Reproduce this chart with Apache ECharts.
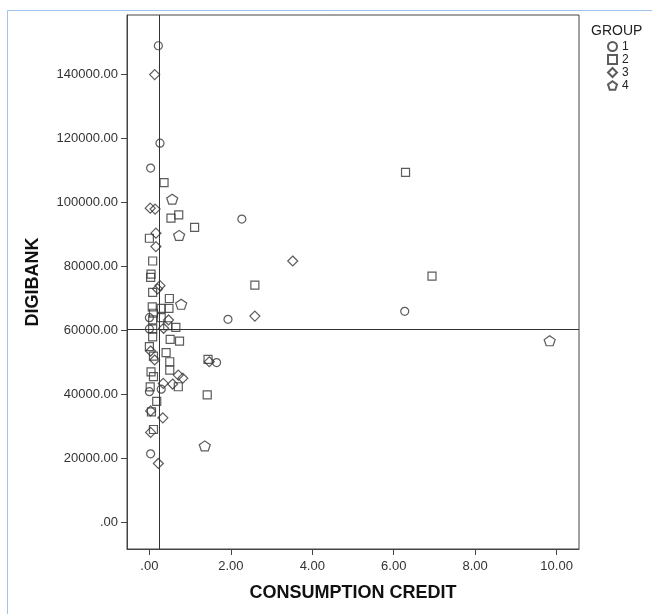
<!DOCTYPE html>
<html>
<head>
<meta charset="utf-8">
<script src="https://cdn.jsdelivr.net/npm/echarts@6/dist/echarts.min.js"></script>
<style>
html,body{margin:0;padding:0;background:#fff;}
#chart{width:652px;height:614px;}
</style>
</head>
<body>
<div id="chart"></div>
<script>
// ---- data ----
const xTicks = [0, 2, 4, 6, 8, 10];
const yTicks = [0, 20000, 40000, 60000, 80000, 100000, 120000, 140000];
const groupNames = ['1', '2', '3', '4'];
const refX = 0.23;
const refY = 60300;

const group1 = [
  [0.22,148900],[0.26,118500],[0.03,110700],[2.27,94800],[1.93,63500],[6.27,66000],
  [1.65,50000],[0.0,64000],[0.0,60500],[0.29,41700],[0.0,40900],[0.03,21500]
];
const group2 = [
  [6.29,109400],[6.94,77000],[2.59,74200],[0.36,106200],[0.53,95100],[0.72,96100],
  [1.11,92200],[0.0,88800],[0.08,81700],[0.04,77600],[0.03,76600],[0.08,71900],
  [0.49,70000],[0.07,67400],[0.29,66900],[0.48,66900],[0.1,65400],[0.08,63300],
  [0.29,64000],[0.65,61000],[0.08,60500],[0.51,57250],[0.74,56700],[0.08,58000],
  [0.41,53100],[0.5,50250],[0.5,47650],[1.44,51000],[0.04,47100],[0.1,45600],
  [0.71,42450],[0.02,42400],[1.42,39900],[0.18,37900],[0.05,34600],[0.1,29100],
  [0.0,55000],[0.45,61500],[0.1,52000]
];
const group3 = [
  [0.13,139900],[0.02,98200],[0.14,97900],[0.16,90400],[0.16,86200],[0.26,74000],
  [3.52,81700],[2.59,64500],[0.47,63300],[0.35,60700],[0.03,53600],[0.13,50800],
  [1.47,50250],[0.34,43500],[0.71,46100],[0.82,45100],[0.57,43300],[0.03,34900],
  [0.33,32750],[0.03,28200],[0.22,18500],[0.2,73000]
];
const group4 = [
  [0.56,101000],[0.73,89700],[0.78,68200],[1.36,24000],[9.83,56800]
];

const pentagon = 'path://M50,0 L97.55,34.55 L79.39,90.45 L20.61,90.45 L2.45,34.55 Z';
const FONT = '"Liberation Sans", Arial, sans-serif';
const fmt = v => v === 0 ? '.00' : v.toFixed(2);
const pointStyle = {color: 'rgba(0,0,0,0)', borderColor: '#333', borderWidth: 1.2};

function mkSeries(name, data, symbol, size) {
  return {
    name: name, type: 'scatter', data: data, symbol: symbol, symbolSize: size,
    itemStyle: pointStyle, emphasis: {disabled: true}, animation: false
  };
}

const series = [
  mkSeries(groupNames[0], group1, 'circle', 8),
  mkSeries(groupNames[1], group2, 'rect', 8),
  mkSeries(groupNames[2], group3, 'diamond', 10),
  mkSeries(groupNames[3], group4, pentagon, [11, 10])
];
series[0].markLine = {
  silent: true, symbol: 'none', animation: false,
  label: {show: false},
  lineStyle: {color: '#333', width: 1, type: 'solid'},
  data: [{xAxis: refX}, {yAxis: refY}]
};

const chart = echarts.init(document.getElementById('chart'), null, {renderer: 'canvas'});
chart.setOption({
  backgroundColor: '#fff',
  animation: false,
  textStyle: {fontFamily: FONT},
  title: {
    text: 'GROUP', left: 586, top: 19,
    textStyle: {fontFamily: FONT, fontSize: 14, fontWeight: 'normal', color: '#222'}
  },
  legend: {
    orient: 'vertical', left: 607, top: 40, padding: 0,
    itemWidth: 9, itemHeight: 9, itemGap: 0,
    data: groupNames,
    textStyle: {fontFamily: FONT, fontSize: 12, color: '#222', lineHeight: 13},
    selectedMode: false
  },
  graphic: [{
    type: 'rect', silent: true,
    shape: {x: 7.5, y: 10.5, width: 800, height: 800},
    style: {fill: 'none', stroke: '#9fc3ea', lineWidth: 1}
  }],
  grid: {
    left: 127, right: 73, top: 15, bottom: 65,
    show: true, borderColor: '#444', borderWidth: 1, backgroundColor: 'transparent'
  },
  xAxis: {
    type: 'value', min: -0.55, max: 10.55,
    name: 'CONSUMPTION CREDIT', nameLocation: 'middle', nameGap: 35,
    nameTextStyle: {fontFamily: FONT, fontSize: 18, fontWeight: 'bold', color: '#111'},
    splitLine: {show: false},
    axisLine: {show: true, onZero: false, lineStyle: {color: '#444', width: 1}},
    axisTick: {show: true, length: 6, customValues: xTicks, lineStyle: {color: '#444'}},
    axisLabel: {customValues: xTicks, formatter: fmt, margin: 11,
      fontFamily: FONT, fontSize: 13, color: '#333'}
  },
  yAxis: {
    type: 'value', min: -8200, max: 158500,
    name: 'DIGIBANK', nameLocation: 'middle', nameGap: 85,
    nameTextStyle: {fontFamily: FONT, fontSize: 18, fontWeight: 'bold', color: '#111'},
    splitLine: {show: false},
    axisLine: {show: true, onZero: false, lineStyle: {color: '#444', width: 1}},
    axisTick: {show: true, length: 6, customValues: yTicks, lineStyle: {color: '#444'}},
    axisLabel: {customValues: yTicks, formatter: fmt, margin: 9,
      fontFamily: FONT, fontSize: 13, color: '#333'}
  },
  series: series
});
</script>
</body>
</html>
